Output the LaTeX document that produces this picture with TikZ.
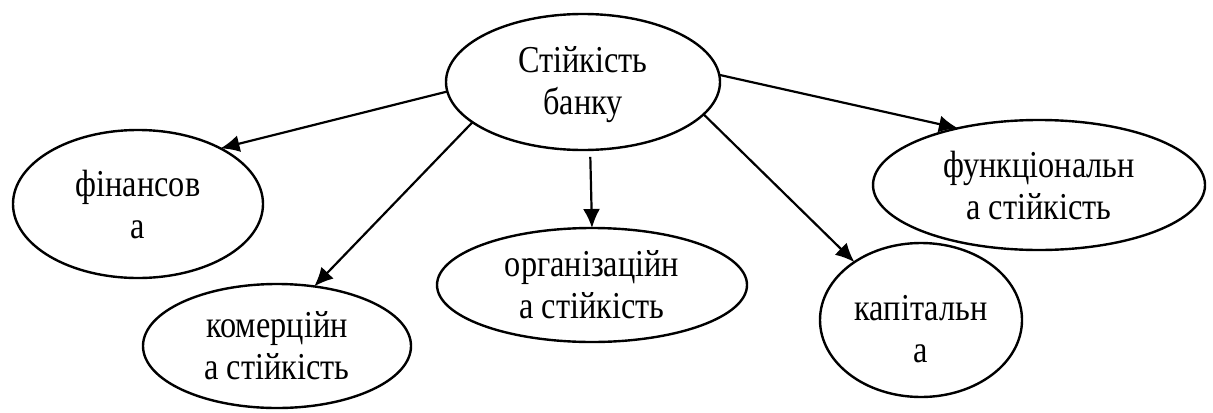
\documentclass[tikz,border=0pt]{standalone}
\usepackage{fontspec}
\setmainfont{Liberation Serif}[FakeStretch=0.85]
\usetikzlibrary{positioning,arrows.meta,shapes.geometric}

\begin{document}
\begin{tikzpicture}[
  x=0.5pt, y=-0.5pt,
  >={Latex[length=9.5pt,width=8.5pt]},
  font=\fontsize{19}{21}\selectfont,
  kind/.style={draw, ellipse, line width=1.2pt, align=center, inner sep=0pt, outer sep=0pt},
  link/.style={->, line width=1.1pt},
]
\useasboundingbox (0,0) rectangle (1213,412);

% Bank stability
\node[kind, minimum width=137pt, minimum height=68pt] (bank) at (583,82) {\rule{0pt}{16pt}Стійкість\\банку};

% Kinds of stability around it
\node[kind, minimum width=125pt, minimum height=74pt] (fin) at (138,204) {фінансов\\а};
\node[kind, minimum width=134pt, minimum height=62pt] (comm) at (277,346) {комерційн\\а стійкість};
\node[kind, minimum width=155pt, minimum height=57pt] (org) at (592,285) {організаційн\\а стійкість};
\node[kind, minimum width=101pt, minimum height=77pt] (cap) at (921,320) {\rule{0pt}{22pt}капітальн\\а};
\node[kind, minimum width=166pt, minimum height=65pt] (func) at (1039,185) {функціональн\\а стійкість};

% Arrows from the bank
\draw[link] (bank.184.5) -- (fin.34.8);
\draw[link] (bank.200.8) -- (comm.58.9);
\draw[link, shorten <=3.5pt] (bank.-84) -- (org.north);
\draw[link] (bank.-15.4) -- (cap.139.2);
\draw[link] (bank.3.6) -- (func.145.6);

\end{tikzpicture}
\end{document}
